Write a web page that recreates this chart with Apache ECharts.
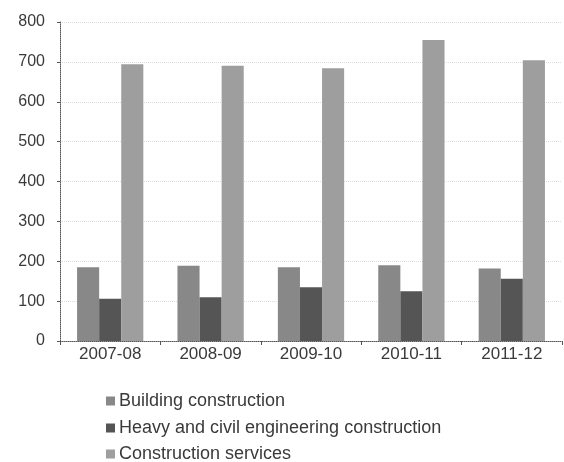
<!DOCTYPE html>
<html><head><meta charset="utf-8">
<script src="https://cdn.jsdelivr.net/npm/echarts@6/dist/echarts.min.js"></script>
<style>html,body{margin:0;padding:0;background:#fff}#c{width:564px;height:462px}</style>
</head><body><div id="c"></div>
<script>
const categories = ['2007-08','2008-09','2009-10','2010-11','2011-12'];
const building = [185, 189, 185, 190, 182];
const heavy = [106, 110, 135, 125, 156];
const services = [694, 690, 684, 755, 704];
const seriesNames = ['Building construction','Heavy and civil engineering construction','Construction services'];
const colors = ['#888888', '#555555', '#9e9e9e'];

const chart = echarts.init(document.getElementById('c'));
const font = 'Liberation Sans, Arial, sans-serif';
const legendTops = [392, 419, 445];
chart.setOption({
  animation: false,
  color: colors,
  grid: {left: 60, right: 2, top: 22, bottom: 121},
  legend: seriesNames.map((n, i) => ({
    left: 106, top: legendTops[i], padding: 0,
    itemWidth: 9, itemHeight: 9, icon: 'rect', itemGap: 4,
    textStyle: {fontFamily: font, fontSize: 18, color: '#3a3a3a', padding: [0,0,0,-1]},
    data: [n]
  })),
  xAxis: {
    type: 'category', data: categories,
    axisLine: {lineStyle: {color: '#555', type: 'dotted'}},
    axisTick: {show: true, length: 4, lineStyle: {color: '#555'}},
    axisLabel: {fontFamily: font, fontSize: 17, color: '#3a3a3a', margin: 5}
  },
  yAxis: {
    type: 'value', min: 0, max: 800, interval: 100,
    axisLine: {show: true, lineStyle: {color: '#555', type: 'dotted'}},
    axisTick: {show: true, length: 3, lineStyle: {color: '#555'}},
    axisLabel: {fontFamily: font, fontSize: 16, color: '#3a3a3a', margin: 15},
    splitLine: {show: true, lineStyle: {color: '#dcdcdc', type: 'dotted'}}
  },
  series: [
    {name: seriesNames[0], type: 'bar', data: building, barGap: '0%', barCategoryGap: '34%'},
    {name: seriesNames[1], type: 'bar', data: heavy},
    {name: seriesNames[2], type: 'bar', data: services}
  ]
});
</script></body></html>
